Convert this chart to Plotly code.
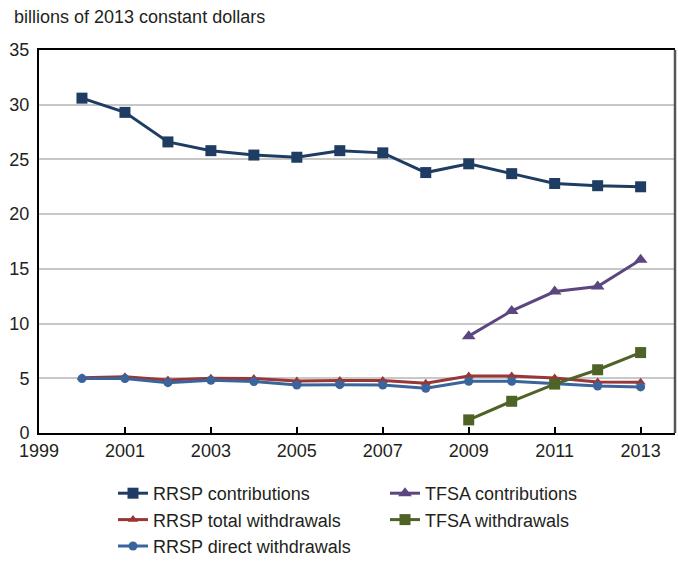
import plotly.graph_objects as go

years = list(range(2000, 2014))
tfsa_years = [2009, 2010, 2011, 2012, 2013]

rrsp_contrib = [30.6, 29.3, 26.6, 25.8, 25.4, 25.2, 25.8, 25.6, 23.8, 24.6, 23.7, 22.8, 22.6, 22.5]
rrsp_total_wd = [5.06, 5.15, 4.85, 5.0, 4.97, 4.76, 4.79, 4.79, 4.54, 5.21, 5.21, 5.03, 4.66, 4.63]
rrsp_direct_wd = [4.97, 4.97, 4.6, 4.82, 4.7, 4.39, 4.42, 4.39, 4.08, 4.73, 4.73, 4.51, 4.3, 4.21]
tfsa_contrib = [8.85, 11.16, 12.93, 13.39, 15.83]
tfsa_wd = [1.2, 2.9, 4.47, 5.78, 7.35]

x_ticks = list(range(1999, 2014, 2))
y_ticks = list(range(0, 36, 5))

FONT = "Liberation Sans, Arial, sans-serif"
TXT = "#231f20"

fig = go.Figure()

def add(x, y, name, color, symbol, size, rank):
    fig.add_trace(go.Scatter(
        x=x, y=y, name=name, mode="lines+markers",
        line=dict(color=color, width=3),
        marker=dict(color=color, symbol=symbol, size=size),
        legendrank=rank,
    ))

add(years, rrsp_contrib, "RRSP contributions", "#1f3d63", "square", 11, 1)
add(tfsa_years, tfsa_contrib, "TFSA contributions", "#5b4680", "triangle-up", 12, 2)
add(years, rrsp_total_wd, "RRSP total withdrawals", "#9a3636", "triangle-up", 9, 3)
add(years, rrsp_direct_wd, "RRSP direct withdrawals", "#3a659c", "circle", 9, 5)
add(tfsa_years, tfsa_wd, "TFSA withdrawals", "#4f6228", "square", 11, 4)

fig.update_layout(
    width=678, height=561,
    margin=dict(l=39, r=3, t=50, b=128, autoexpand=False),
    paper_bgcolor="white", plot_bgcolor="white",
    font=dict(family=FONT, size=18, color=TXT),
    showlegend=True,
    legend=dict(
        orientation="h",
        xref="container", x=113/678, xanchor="left",
        yref="container", y=1 - 475/561, yanchor="top",
        entrywidth=227, entrywidthmode="pixels",
        font=dict(family=FONT, size=18, color=TXT),
        tracegroupgap=0, itemwidth=30,
    ),
    annotations=[dict(
        text="billions of 2013 constant dollars", xref="paper", yref="paper",
        x=-27/636, y=1 + 21/383, xanchor="left", yanchor="bottom",
        showarrow=False, font=dict(family=FONT, size=18, color=TXT),
    )],
    shapes=[dict(type="line", xref="paper", yref="paper", x0=1, x1=1, y0=0, y1=1,
                 line=dict(color="#555555", width=2.5))],
)

fig.update_xaxes(
    range=[1999, 2013.8], tickvals=x_ticks, ticktext=[str(v) for v in x_ticks],
    showgrid=False, zeroline=False,
    showline=True, linecolor="black", linewidth=2, mirror=True,
    ticks="inside", ticklen=6, tickwidth=2, tickcolor="black",
    tickfont=dict(family=FONT, size=18, color=TXT),
)
fig.update_yaxes(
    range=[0, 35], tickvals=y_ticks,
    showgrid=True, gridcolor="#c8c8c8", gridwidth=1.5, zeroline=False,
    showline=True, linecolor="black", linewidth=2,
    ticks="", ticklabelstandoff=4,
    tickfont=dict(family=FONT, size=18, color=TXT),
)

fig.write_html("out.html",
               config={"displayModeBar": False},
               post_script="document.body.style.margin='0';document.body.style.padding='0';")
